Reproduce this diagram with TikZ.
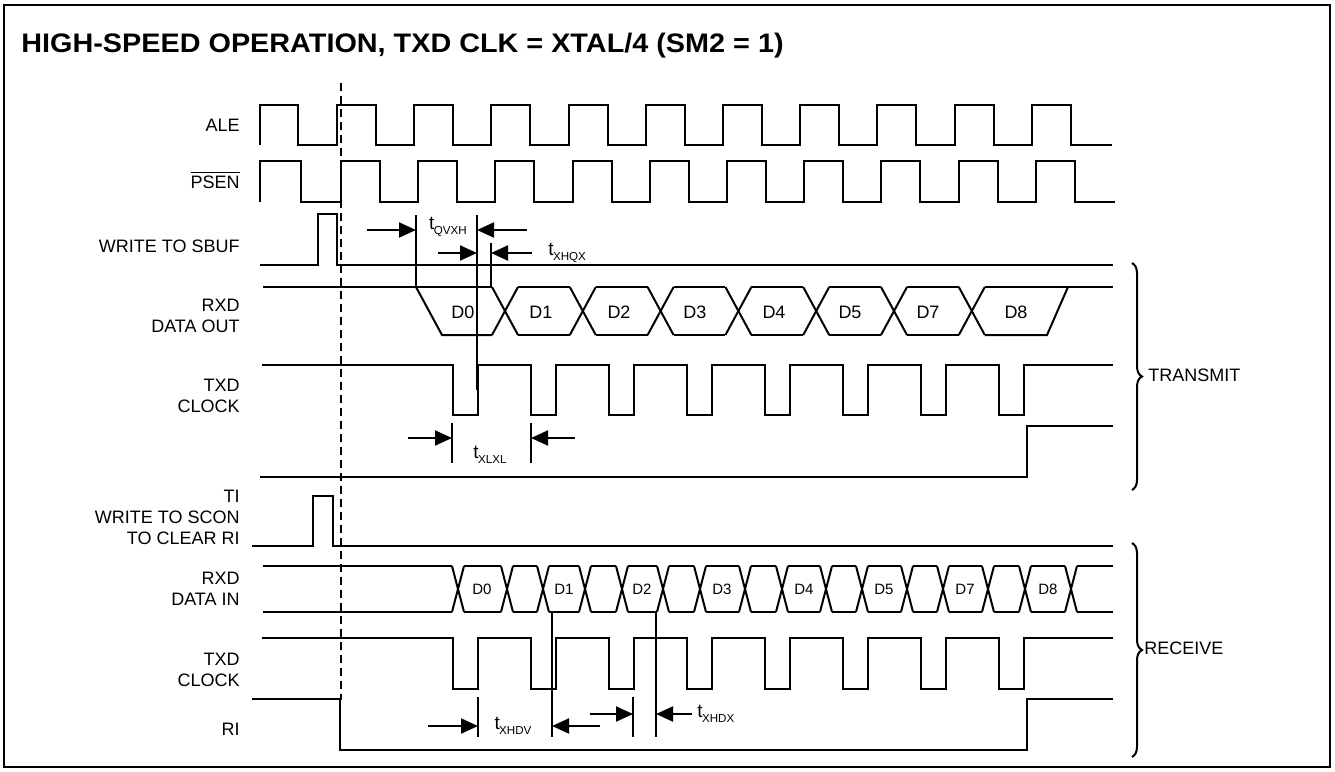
\documentclass[tikz,border=0pt]{standalone}
\usepackage{fontspec}
\setmainfont{Liberation Sans}
\usetikzlibrary{arrows.meta,decorations.pathreplacing}
\newcommand{\tlab}[1]{t\kern-0.3pt\raisebox{-0.45ex}{\fontsize{5.8}{6}\selectfont #1}}
\begin{document}
\begin{tikzpicture}[x=0.5pt,y=-0.5pt,
  sig/.style={line width=1pt,line join=miter},
  tick/.style={line width=0.9pt},
  dim/.style={line width=1pt,-{Triangle[length=8.5pt,width=7.5pt]}},
  lbl/.style={anchor=east,align=right,inner sep=0pt,font=\fontsize{9}{10.5}\selectfont},
  dlbl/.style={inner sep=0pt,font=\fontsize{9}{10}\selectfont},
  rdlbl/.style={inner sep=0pt,font=\fontsize{7.5}{9}\selectfont},
  tl/.style={inner sep=0pt,font=\fontsize{9.5}{10}\selectfont},
  brc/.style={decorate,decoration={brace,amplitude=5pt},line width=1pt}
]
\useasboundingbox (0,0) rectangle (1335,772);
\draw[line width=1.2pt] (4,5) rectangle (1330,767);

\node[anchor=base west,inner sep=0pt,font=\fontsize{14.4}{17}\selectfont\bfseries] (title) at (21,52)
  {\scalebox{1.0}[0.93]{HIGH-SPEED OPERATION, TXD CLK = XTAL/4 (SM2 = 1)}};

% signal labels
\node[lbl] (lale) at (240,125) {ALE};
\node[lbl] (lpsen) at (240,180) {$\overline{\hbox{PSEN}}$};
\node[lbl] (lsbuf) at (240,246) {WRITE TO SBUF};
\node[lbl] (lrxo) at (240,316) {RXD\\DATA OUT};
\node[lbl] (ltxc) at (240,396) {TXD\\CLOCK};
\node[lbl] (lti) at (240,517) {TI\\WRITE TO SCON\\TO CLEAR RI};
\node[lbl] (lrxi) at (240,589) {RXD\\DATA IN};
\node[lbl] (ltxc2) at (240,670) {TXD\\CLOCK};
\node[lbl] (lri) at (240,729) {RI};

% ALE
\draw[sig] (260,145) -- (260,105) -- (298,105) -- (298,145)
  \foreach \k in {0,...,9} { -- ({337+77.2*\k},145) -- ({337+77.2*\k},105) -- ({376+77.2*\k},105) -- ({376+77.2*\k},145) } -- (1112,145);
% PSEN
\draw[sig] (260,202) -- (260,161) -- (301,161) -- (301,202)
  \foreach \k in {0,...,9} { -- ({341+77.2*\k},202) -- ({341+77.2*\k},161) -- ({380+77.2*\k},161) -- ({380+77.2*\k},202) } -- (1115,202);
% WRITE TO SBUF
\draw[sig] (260,265) -- (318,265) -- (318,214) -- (337,214) -- (337,265) -- (1113,265);

% RXD DATA OUT (transmit)
\draw[sig] (263,287) -- (492,287);
\draw[sig] (416,287) -- (442,335) -- (492,335);
\foreach \i in {0,...,6} {
  \draw[sig] ({505+77.8*\i-13},287) -- ({505+77.8*\i+13},335);
  \draw[sig] ({505+77.8*\i-13},335) -- ({505+77.8*\i+13},287);
}
\foreach \i in {0,...,5} {
  \draw[sig] ({518+77.8*\i},287) -- ({492+77.8*(\i+1)},287);
  \draw[sig] ({518+77.8*\i},335) -- ({492+77.8*(\i+1)},335);
}
\draw[sig] (984.8,287) -- (1113,287);
\draw[sig] (984.8,335) -- (1047,335) -- (1068,287);
\foreach \n/\x in {D0/463,D1/541,D2/619,D3/695,D4/774,D5/850,D7/928,D8/1016}
  \node[dlbl] (tx\n) at (\x,312) {\n};

% TXD CLOCK (transmit)
\draw[sig] (262,365) \foreach \k in {0,...,7} { -- ({453+78*\k},365) -- ({453+78*\k},415) -- ({478+78*\k},415) -- ({478+78*\k},365) } -- (1113,365);
% TI
\draw[sig] (260,477) -- (1027,477) -- (1027,426) -- (1113,426);
% WRITE TO SCON
\draw[sig] (252,546) -- (313,546) -- (313,496) -- (333,496) -- (333,546) -- (1113,546);

% RXD DATA IN (receive)
\draw[sig] (263,566) -- (452,566);
\draw[sig] (263,612) -- (452,612);
\foreach \c in {458,507,543,585,622,663,700,745,782,826,862,907,943,988,1025,1071} {
  \draw[sig] ({\c-6},566) -- ({\c+6},612);
  \draw[sig] ({\c-6},612) -- ({\c+6},566);
}
\foreach \a/\b in {458/507,507/543,543/585,585/622,622/663,663/700,700/745,745/782,782/826,826/862,862/907,907/943,943/988,988/1025,1025/1071} {
  \draw[sig] ({\a+6},566) -- ({\b-6},566);
  \draw[sig] ({\a+6},612) -- ({\b-6},612);
}
\draw[sig] (1077,566) -- (1113,566);
\draw[sig] (1077,612) -- (1113,612);
\foreach \n/\x in {D0/482,D1/564,D2/642,D3/722,D4/804,D5/884,D7/965,D8/1048}
  \node[rdlbl] (rx\n) at (\x,589) {\n};

% TXD CLOCK (receive)
\draw[sig] (262,638) \foreach \k in {0,...,7} { -- ({453+78*\k},638) -- ({453+78*\k},689) -- ({478+78*\k},689) -- ({478+78*\k},638) } -- (1113,638);
% RI
\draw[sig] (252,699) -- (340,699) -- (340,750) -- (1027,750) -- (1027,699) -- (1113,699);

% dashed reference line
\draw[line width=1pt,dash pattern=on 4pt off 2.5pt] (341,83) -- (341,700);

% transmit timing marks
\draw[tick] (416,215) -- (416,287);
\draw[tick] (477,215) -- (477,390);
\draw[tick] (491,243) -- (491,287);
\draw[tick] (452,423) -- (452,463);
\draw[tick] (531,423) -- (531,463);
\draw[dim] (367,230) -- (416,230);
\draw[dim] (527,230) -- (477,230);
\draw[dim] (438,253) -- (477,253);
\draw[dim] (532,253) -- (491,253);
\draw[dim] (408,438) -- (452,438);
\draw[dim] (575,438) -- (531,438);
\node[tl] (tqvxh) at (448,227) {\tlab{QVXH}};
\node[tl,anchor=west] (txhqx) at (548,253) {\tlab{XHQX}};
\node[tl] (txlxl) at (490,455) {\tlab{XLXL}};

% receive timing marks
\draw[tick] (478,697) -- (478,737);
\draw[tick] (552,612) -- (552,737);
\draw[tick] (633,697) -- (633,737);
\draw[tick] (656,612) -- (656,737);
\draw[dim] (428,726) -- (478,726);
\draw[dim] (600,726) -- (552,726);
\draw[dim] (590,714) -- (633,714);
\draw[dim] (692,714) -- (656,714);
\node[tl] (txhdv) at (513,726) {\tlab{XHDV}};
\node[tl,anchor=west] (txhdx) at (697,714) {\tlab{XHDX}};

% braces
\draw[brc] (1132,263) -- (1132,490);
\draw[brc] (1132,543) -- (1132,757);
\node[lbl,anchor=west] (ltransmit) at (1148,375) {TRANSMIT};
\node[lbl,anchor=west] (lreceive) at (1144,648) {RECEIVE};
\end{tikzpicture}
\end{document}
